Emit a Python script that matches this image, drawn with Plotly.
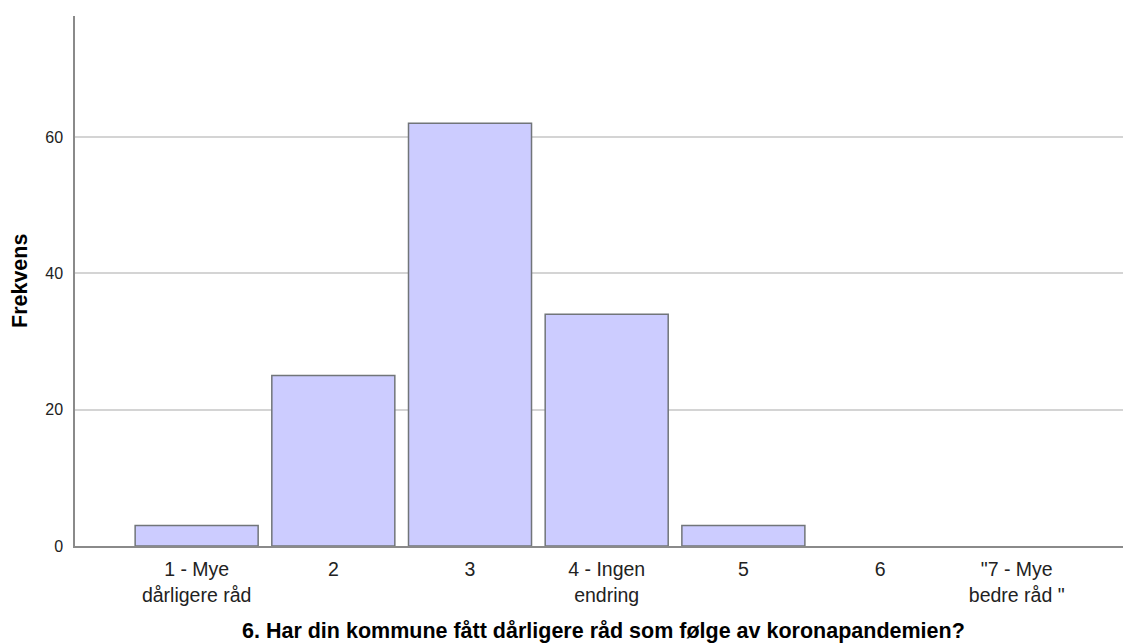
import plotly.graph_objects as go

categories = ["1 - Mye<br>dårligere råd", "2", "3", "4 - Ingen<br>endring", "5", "6", "\"7 - Mye<br>bedre råd \""]
positions = [1, 2, 3, 4, 5, 6, 7]
counts = [3, 25, 62, 34, 3, 0, 0]
y_ticks = [0, 20, 40, 60]

x_title = "6. Har din kommune fått dårligere råd som følge av koronapandemien?"
y_title = "Frekvens"

FONT = "Liberation Sans, Arial, sans-serif"

# zero-count categories draw no bar (as in the reference)
bar_heights = [c if c > 0 else None for c in counts]

fig = go.Figure()
fig.add_trace(go.Bar(
    x=positions, y=bar_heights, width=0.9,
    marker=dict(color="#ccccff", line=dict(color="#717579", width=1.5)),
    hoverinfo="x+y",
))

# the page body has an 8px margin: figure is placed at (8, 8)
fig.update_layout(
    width=1123, height=636,
    margin=dict(l=67, r=0, t=8, b=98),
    paper_bgcolor="white", plot_bgcolor="white",
    showlegend=False,
    font=dict(family=FONT, color="#222222"),
    xaxis=dict(
        range=[0.11, 7.836], tickmode="array", tickvals=positions, ticktext=categories,
        showgrid=False, zeroline=False, showline=True, linecolor="#8a8a8a", linewidth=1.5,
        ticks="outside", ticklen=5, tickcolor="rgba(0,0,0,0)",
        tickfont=dict(size=19.5, family=FONT, color="#222222"),
    ),
    yaxis=dict(
        range=[0, 77.75], tickmode="array", tickvals=y_ticks,
        showgrid=True, gridcolor="#d4d4d4", gridwidth=1.5, zeroline=False,
        showline=True, linecolor="#8a8a8a", linewidth=1.5,
        ticks="outside", ticklen=7, tickcolor="rgba(0,0,0,0)",
        tickfont=dict(size=16, family=FONT, color="#222222"),
    ),
    annotations=[
        dict(text="<b>" + x_title + "</b>", xref="paper", yref="paper",
             x=0.5, y=0, yshift=-85, xanchor="center", yanchor="middle",
             showarrow=False, font=dict(size=21.5, family=FONT, color="black")),
        dict(text="<b>" + y_title + "</b>", xref="paper", yref="paper",
             x=0, xshift=-55, y=0.5, xanchor="center", yanchor="middle", textangle=-90,
             showarrow=False, font=dict(size=21.5, family=FONT, color="black")),
    ],
)

fig.write_html("out.html")
